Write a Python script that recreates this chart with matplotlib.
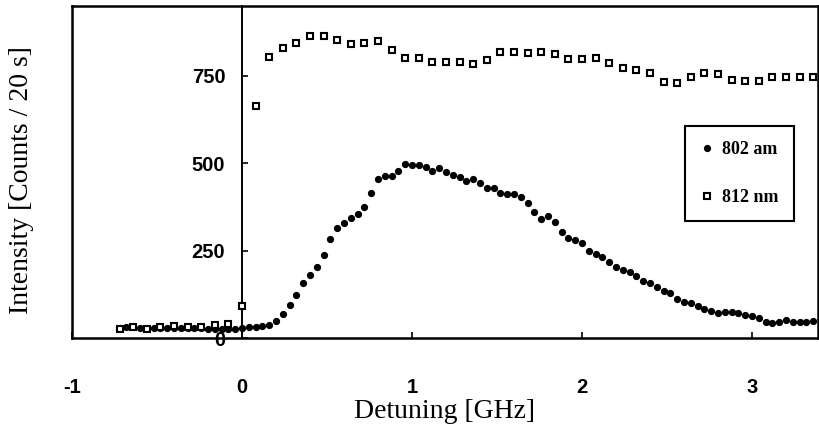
import matplotlib
matplotlib.use("Agg")
import matplotlib.pyplot as plt
from matplotlib.lines import Line2D

plt.rcParams['axes.unicode_minus'] = False

# 802 nm series (filled markers)
x_802 = [-0.72, -0.68, -0.64, -0.60, -0.56, -0.52, -0.48, -0.44, -0.40, -0.36,
         -0.32, -0.28, -0.24, -0.20, -0.16, -0.12, -0.08, -0.04, 0.00, 0.04,
         0.08, 0.12, 0.16, 0.20, 0.24, 0.28, 0.32, 0.36, 0.40, 0.44,
         0.48, 0.52, 0.56, 0.60, 0.64, 0.68, 0.72, 0.76, 0.80, 0.84,
         0.88, 0.92, 0.96, 1.00, 1.04, 1.08, 1.12, 1.16, 1.20, 1.24,
         1.28, 1.32, 1.36, 1.40, 1.44, 1.48, 1.52, 1.56, 1.60, 1.64,
         1.68, 1.72, 1.76, 1.80, 1.84, 1.88, 1.92, 1.96, 2.00, 2.04,
         2.08, 2.12, 2.16, 2.20, 2.24, 2.28, 2.32, 2.36, 2.40, 2.44,
         2.48, 2.52, 2.56, 2.60, 2.64, 2.68, 2.72, 2.76, 2.80, 2.84,
         2.88, 2.92, 2.96, 3.00, 3.04, 3.08, 3.12, 3.16, 3.20, 3.24,
         3.28, 3.32, 3.36]
y_802 = [30, 31, 31, 30, 30, 29, 30, 30, 29, 29,
         28, 28, 28, 27, 27, 26, 26, 27, 28, 31,
         31, 34, 37, 48, 68, 95, 123, 157, 180, 203,
         238, 283, 314, 329, 343, 354, 374, 415, 455, 463,
         463, 477, 497, 494, 494, 489, 477, 486, 475, 466,
         460, 449, 455, 443, 429, 429, 415, 412, 412, 403,
         387, 360, 340, 349, 332, 303, 286, 280, 272, 249,
         241, 232, 217, 203, 194, 189, 177, 163, 157, 146,
         135, 129, 112, 103, 100, 92, 83, 78, 71, 74,
         74, 71, 65, 62, 57, 45, 43, 45, 51, 45,
         45, 45, 48]

# 812 nm series (open markers)
x_812 = [-0.72, -0.64, -0.56, -0.48, -0.40, -0.32, -0.24, -0.16, -0.08, 0.00,
         0.08, 0.16, 0.24, 0.32, 0.40, 0.48, 0.56, 0.64, 0.72, 0.80,
         0.88, 0.96, 1.04, 1.12, 1.20, 1.28, 1.36, 1.44, 1.52, 1.60,
         1.68, 1.76, 1.84, 1.92, 2.00, 2.08, 2.16, 2.24, 2.32, 2.40,
         2.48, 2.56, 2.64, 2.72, 2.80, 2.88, 2.96, 3.04, 3.12, 3.20,
         3.28, 3.36]
y_812 = [26, 31, 26, 31, 34, 31, 31, 37, 40, 92,
         663, 803, 829, 844, 864, 864, 853, 840, 844, 850,
         823, 800, 800, 789, 789, 789, 783, 795, 817, 817,
         815, 817, 812, 798, 798, 800, 786, 772, 766, 758,
         732, 729, 746, 758, 755, 738, 735, 735, 746, 746,
         746, 746]

x_ticks = [-1, 0, 1, 2, 3]
y_ticks = [0, 250, 500, 750]
labels = ["802 am", "812 nm"]

fig = plt.figure(figsize=(8.2, 4.29), dpi=100)
ax = fig.add_axes([72/820, 1-338/429, 746/820, 332/429])

ax.plot(x_802, y_802, linestyle='none', marker='o', markersize=4.2,
        color='black', label=labels[0], zorder=3)
ax.plot(x_812, y_812, linestyle='none', marker='s', markersize=4.4,
        markerfacecolor='white', markeredgecolor='black', markeredgewidth=1.5,
        label=labels[1], zorder=4)

ax.set_xlim(-1, 3.388)
ax.set_ylim(0, 949)

for s in ['top', 'right', 'bottom']:
    ax.spines[s].set_linewidth(1.8)
ax.spines['left'].set_position(('data', 0))
ax.spines['left'].set_linewidth(1.4)
ax.add_line(Line2D([0, 0], [0, 1], transform=ax.transAxes, color='black',
                   linewidth=1.8, clip_on=False))

ax.set_xticks(x_ticks)
ax.set_yticks(y_ticks)
ax.set_xticklabels([str(v) for v in x_ticks])
ax.set_yticklabels([str(v) for v in y_ticks])
ax.tick_params(axis='x', direction='in', length=4, width=1.2, pad=29)
ax.tick_params(axis='y', direction='in', length=4, width=1.2, pad=12)
for lab in ax.get_xticklabels() + ax.get_yticklabels():
    lab.set_fontfamily('Liberation Sans')
    lab.set_fontweight('bold')
    lab.set_fontsize(14.5)

ax.set_xlabel('Detuning [GHz]', family='Liberation Serif', fontsize=20, labelpad=1)
fig.text(22/820, 1-180/429, 'Intensity [Counts / 20 s]', family='Liberation Serif',
         fontsize=20, rotation=90, ha='center', va='center')

leg = ax.legend(loc='upper left', bbox_to_anchor=(0.822, 0.639), borderaxespad=0,
                frameon=True, fancybox=False, shadow=False, handlelength=0.7,
                handletextpad=0.5, borderpad=0.85, labelspacing=1.7,
                prop={'family': 'Liberation Serif', 'weight': 'bold', 'size': 13})
leg.get_frame().set_edgecolor('black')
leg.get_frame().set_linewidth(1.5)
leg.get_frame().set_alpha(1)

fig.savefig('out.png', dpi=100)
